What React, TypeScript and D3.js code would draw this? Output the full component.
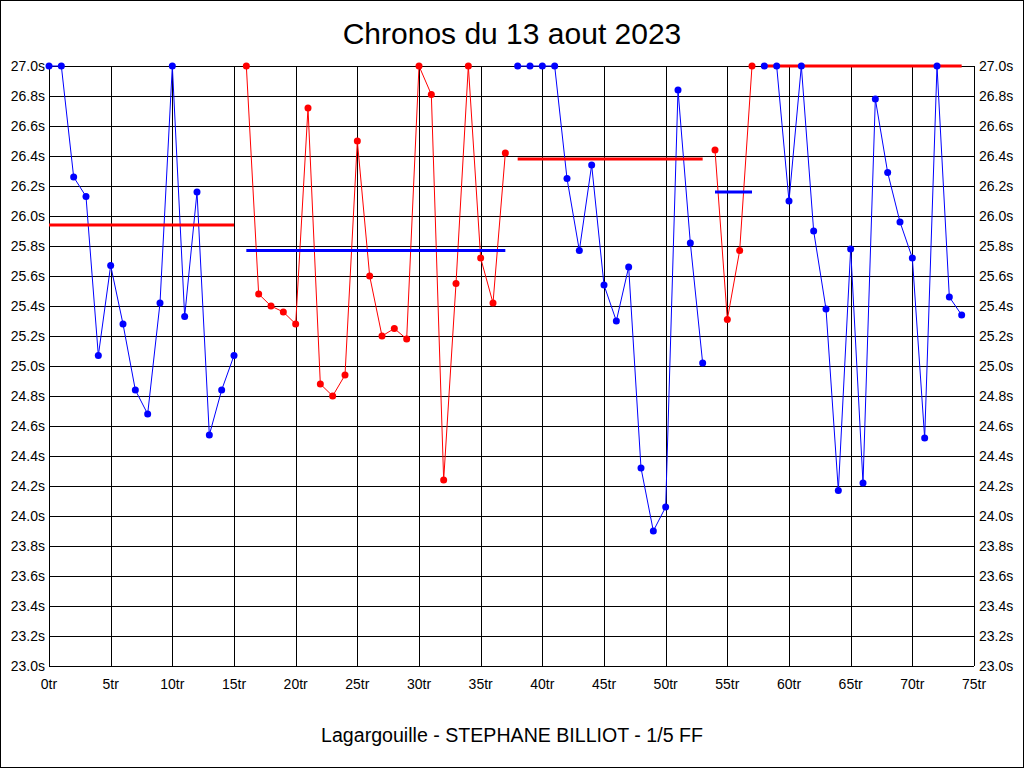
import { useEffect } from "react"
import * as d3 from "d3"

// temps au tour, par relais (valeurs plafonnées à 27.0s)
const relayStarts = [0, 16, 38, 54, 58]
const relay1 = [27.0, 27.0, 26.26, 26.13, 25.07, 25.67, 25.28, 24.84, 24.68, 25.42, 27.0, 25.33, 26.16, 24.54, 24.84, 25.07]
const relay2 = [27.0, 25.48, 25.4, 25.36, 25.28, 26.72, 24.88, 24.8, 24.94, 26.5, 25.6, 25.2, 25.25, 25.18, 27.0, 26.81, 24.24, 25.55, 27.0, 25.72, 25.42, 26.42]
const relay3 = [27.0, 27.0, 27.0, 27.0, 26.25, 25.77, 26.34, 25.54, 25.3, 25.66, 24.32, 23.9, 24.06, 26.84, 25.82, 25.02]
const relay4 = [26.44, 25.31, 25.77, 27.0]
const relay5 = [27.0, 27.0, 26.1, 27.0, 25.9, 25.38, 24.17, 25.78, 24.22, 26.78, 26.29, 25.96, 25.72, 24.52, 27.0, 25.46, 25.34]
const relayAverages = [25.94, 25.77, 26.38, 26.16, 27.0]

const yTicks = d3.range(0, 21).map((i) => 23 + i * 0.2)
const xTicks = d3.range(0, 16).map((i) => i * 5)

const title = "Chronos du 13 aout 2023"
const footer = "Lagargouille - STEPHANE BILLIOT - 1/5 FF"

const BLUE = "#0000ff"
const RED = "#ff0000"

export default function App() {
  useEffect(() => {
    document.body.style.margin = "0"
  }, [])

  const W = 1024
  const H = 768
  const margin = { left: 49, right: 50, top: 66, bottom: 102 }

  const x = d3.scaleLinear().domain([0, 75]).range([margin.left, W - margin.right])
  const y = d3.scaleLinear().domain([23, 27]).range([H - margin.bottom, margin.top])

  const relays = [relay1, relay2, relay3, relay4, relay5].map((vals, i) => ({
    points: vals.map((v, j) => ({ lap: relayStarts[i] + j, t: v })),
    color: i % 2 === 0 ? BLUE : RED,
    avgColor: i % 2 === 0 ? RED : BLUE,
    avg: relayAverages[i],
  }))

  const line = d3
    .line<{ lap: number; t: number }>()
    .x((d) => x(d.lap))
    .y((d) => y(d.t))

  const font = "'Liberation Sans', Arial, sans-serif"

  return (
    <svg width={W} height={H} style={{ display: "block", fontFamily: font }}>
      <rect x={0.5} y={0.5} width={W - 1} height={H - 1} fill="#fff" stroke="#000" />

      <text x={W / 2} y={44} textAnchor="middle" fontSize={30}>
        {title}
      </text>

      {/* grille */}
      {yTicks.map((t) => (
        <line key={"h" + t} x1={x(0)} x2={x(75)} y1={Math.round(y(t)) + 0.5} y2={Math.round(y(t)) + 0.5} stroke="#000" />
      ))}
      {xTicks.map((t) => (
        <line key={"v" + t} x1={Math.round(x(t)) + 0.5} x2={Math.round(x(t)) + 0.5} y1={y(27)} y2={y(23)} stroke="#000" />
      ))}

      {/* étiquettes */}
      {yTicks.map((t) => (
        <g key={"l" + t} fontSize={14} fill="#000">
          <text x={45} y={y(t)} dy="0.35em" textAnchor="end">
            {d3.format(".1f")(t)}s
          </text>
          <text x={979} y={y(t)} dy="0.35em" textAnchor="start">
            {d3.format(".1f")(t)}s
          </text>
        </g>
      ))}
      {xTicks.map((t) => (
        <text key={"xl" + t} x={x(t)} y={689} textAnchor="middle" fontSize={14}>
          {t}tr
        </text>
      ))}

      {/* courbes */}
      {relays.map((r, i) => (
        <path key={"p" + i} d={line(r.points) || ""} fill="none" stroke={r.color} strokeWidth={1} />
      ))}

      {/* moyennes */}
      {relays.map((r, i) => (
        <line
          key={"a" + i}
          x1={x(r.points[0].lap)}
          x2={x(r.points[r.points.length - 1].lap)}
          y1={y(r.avg)}
          y2={y(r.avg)}
          stroke={r.avgColor}
          strokeWidth={3}
        />
      ))}

      {/* points */}
      {relays.map((r, i) =>
        r.points.map((p) => <circle key={"c" + i + "-" + p.lap} cx={x(p.lap)} cy={y(p.t)} r={3.5} fill={r.color} />),
      )}

      <text x={W / 2} y={742} textAnchor="middle" fontSize={19.6}>
        {footer}
      </text>
    </svg>
  )
}
